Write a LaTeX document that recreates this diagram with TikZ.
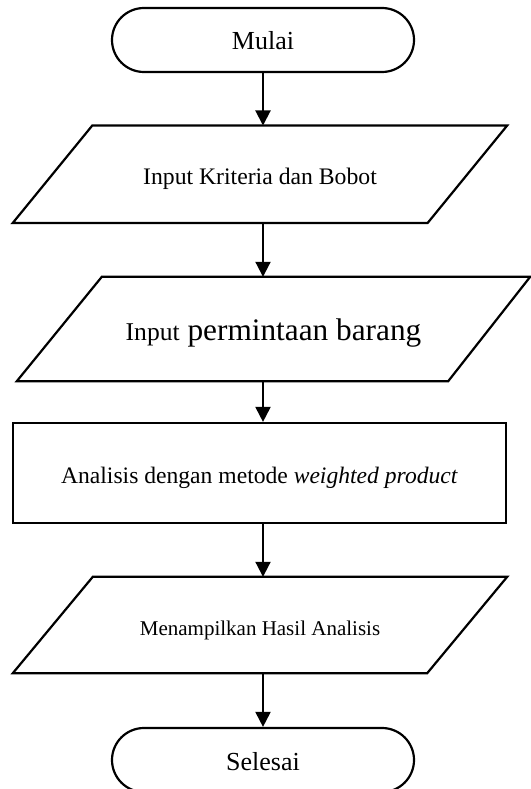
\documentclass[tikz,border=0pt]{standalone}
\usepackage{fontspec}
\setmainfont{Liberation Serif}
\usetikzlibrary{shapes.misc,arrows.meta,calc}
\tikzset{
  x=1pt, y=-1pt,
  shapeline/.style={draw, line width=2.2pt, line join=miter},
  txt/.style={inner sep=0pt, text depth=0pt, text height=20pt},
  term/.style={shapeline, txt, rounded rectangle, minimum width=302pt, minimum height=64pt, font=\fontsize{26}{30}\selectfont},
  iobox/.style={txt, rectangle, minimum width=494pt},
  proc/.style={shapeline, txt, rectangle, minimum width=493pt, minimum height=100pt},
  arr/.style={line width=2pt, -{Triangle[length=15pt,width=15pt]}}
}
\begin{document}
\begin{tikzpicture}
\useasboundingbox (0,0) rectangle (530,789);
\node[term] (mulai) at (263,40) {Mulai};
\node[iobox, minimum height=97pt, font=\fontsize{23.7}{28}\selectfont] (p1) at (260,174.2) {Input Kriteria dan Bobot};
\draw[shapeline] ($(p1.north west)+(79.5,0)$) -- (p1.north east) -- ($(p1.south east)-(79.5,0)$) -- (p1.south west) -- cycle;
\node[iobox, minimum width=513pt, minimum height=104pt, text height=22pt,
      font=\fontsize{31.3}{36}\selectfont] (p2) at (273.5,329)
      {{\fontsize{25.6}{30}\selectfont Input} permintaan barang};
\draw[shapeline] ($(p2.north west)+(85,0)$) -- (p2.north east) -- ($(p2.south east)-(82,0)$) -- (p2.south west) -- cycle;
\node[proc, font=\fontsize{23.6}{28}\selectfont] (proc) at (259.5,473)
      {Analisis dengan metode \textit{weighted product}};
\node[iobox, minimum height=96pt, font=\fontsize{21}{25}\selectfont] (p3) at (260,625) {Menampilkan Hasil Analisis};
\draw[shapeline] ($(p3.north west)+(80,0)$) -- (p3.north east) -- ($(p3.south east)-(80,0)$) -- (p3.south west) -- cycle;
\node[term] (selesai) at (263,760) {Selesai};
\draw[arr] (mulai.south) -- (mulai.south |- p1.north);
\draw[arr] (p1.south -| mulai.south) -- (mulai.south |- p2.north);
\draw[arr] (p2.south -| mulai.south) -- (mulai.south |- proc.north);
\draw[arr] (proc.south -| mulai.south) -- (mulai.south |- p3.north);
\draw[arr] (p3.south -| mulai.south) -- (selesai.north);
\end{tikzpicture}
\end{document}
